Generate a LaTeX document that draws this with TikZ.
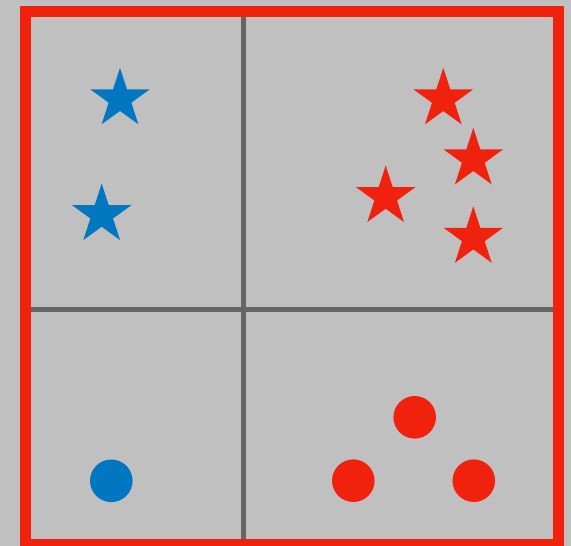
\documentclass[tikz,border=0pt]{standalone}
\usepackage{tikz}
\usetikzlibrary{shapes.geometric}

\definecolor{bggray}{RGB}{192,192,192}
\definecolor{gridgray}{RGB}{102,102,102}
\definecolor{ptblue}{RGB}{0,119,192}
\definecolor{ptred}{RGB}{240,34,14}

\tikzset{
  pstar/.style={star, star points=5, star point ratio=2.618, inner sep=0pt,
    minimum size=1.25cm, fill=#1, draw=none},
  pdot/.style={circle, inner sep=0pt, minimum size=0.852cm, fill=#1, draw=none}
}

\begin{document}
\begin{tikzpicture}[x=0.02cm, y=-0.02cm]
  \fill[bggray] (0,0) rectangle (571,546);
  \useasboundingbox (0,0) rectangle (571,546);

  \coordinate (TL) at (25.5,11.5);
  \coordinate (BR) at (558,544.5);
  \coordinate (T) at (243.3,11.5);
  \coordinate (B) at (243.3,544.5);
  \coordinate (L) at (25.5,309.3);
  \coordinate (R) at (558,309.3);

  % quadrant lines
  \draw[gridgray, line width=0.1cm] (T) -- (B);
  \draw[gridgray, line width=0.1cm] (L) -- (R);

  % outer frame
  \draw[ptred, line width=0.22cm] (TL) rectangle (BR);

  % stars
  \node[pstar=ptblue] (S1) at (120,99) {};
  \node[pstar=ptblue] (S2) at (101.7,214.8) {};
  \node[pstar=ptred] (S3) at (443.3,99.1) {};
  \node[pstar=ptred] (S4) at (473.3,159.1) {};
  \node[pstar=ptred] (S5) at (385.7,196.8) {};
  \node[pstar=ptred] (S6) at (473.3,237.5) {};

  % dots
  \node[pdot=ptblue] (C1) at (111.3,480.8) {};
  \node[pdot=ptred] (C2) at (414.7,417.3) {};
  \node[pdot=ptred] (C3) at (353.3,480.7) {};
  \node[pdot=ptred] (C4) at (473.8,480.7) {};
\end{tikzpicture}
\end{document}
